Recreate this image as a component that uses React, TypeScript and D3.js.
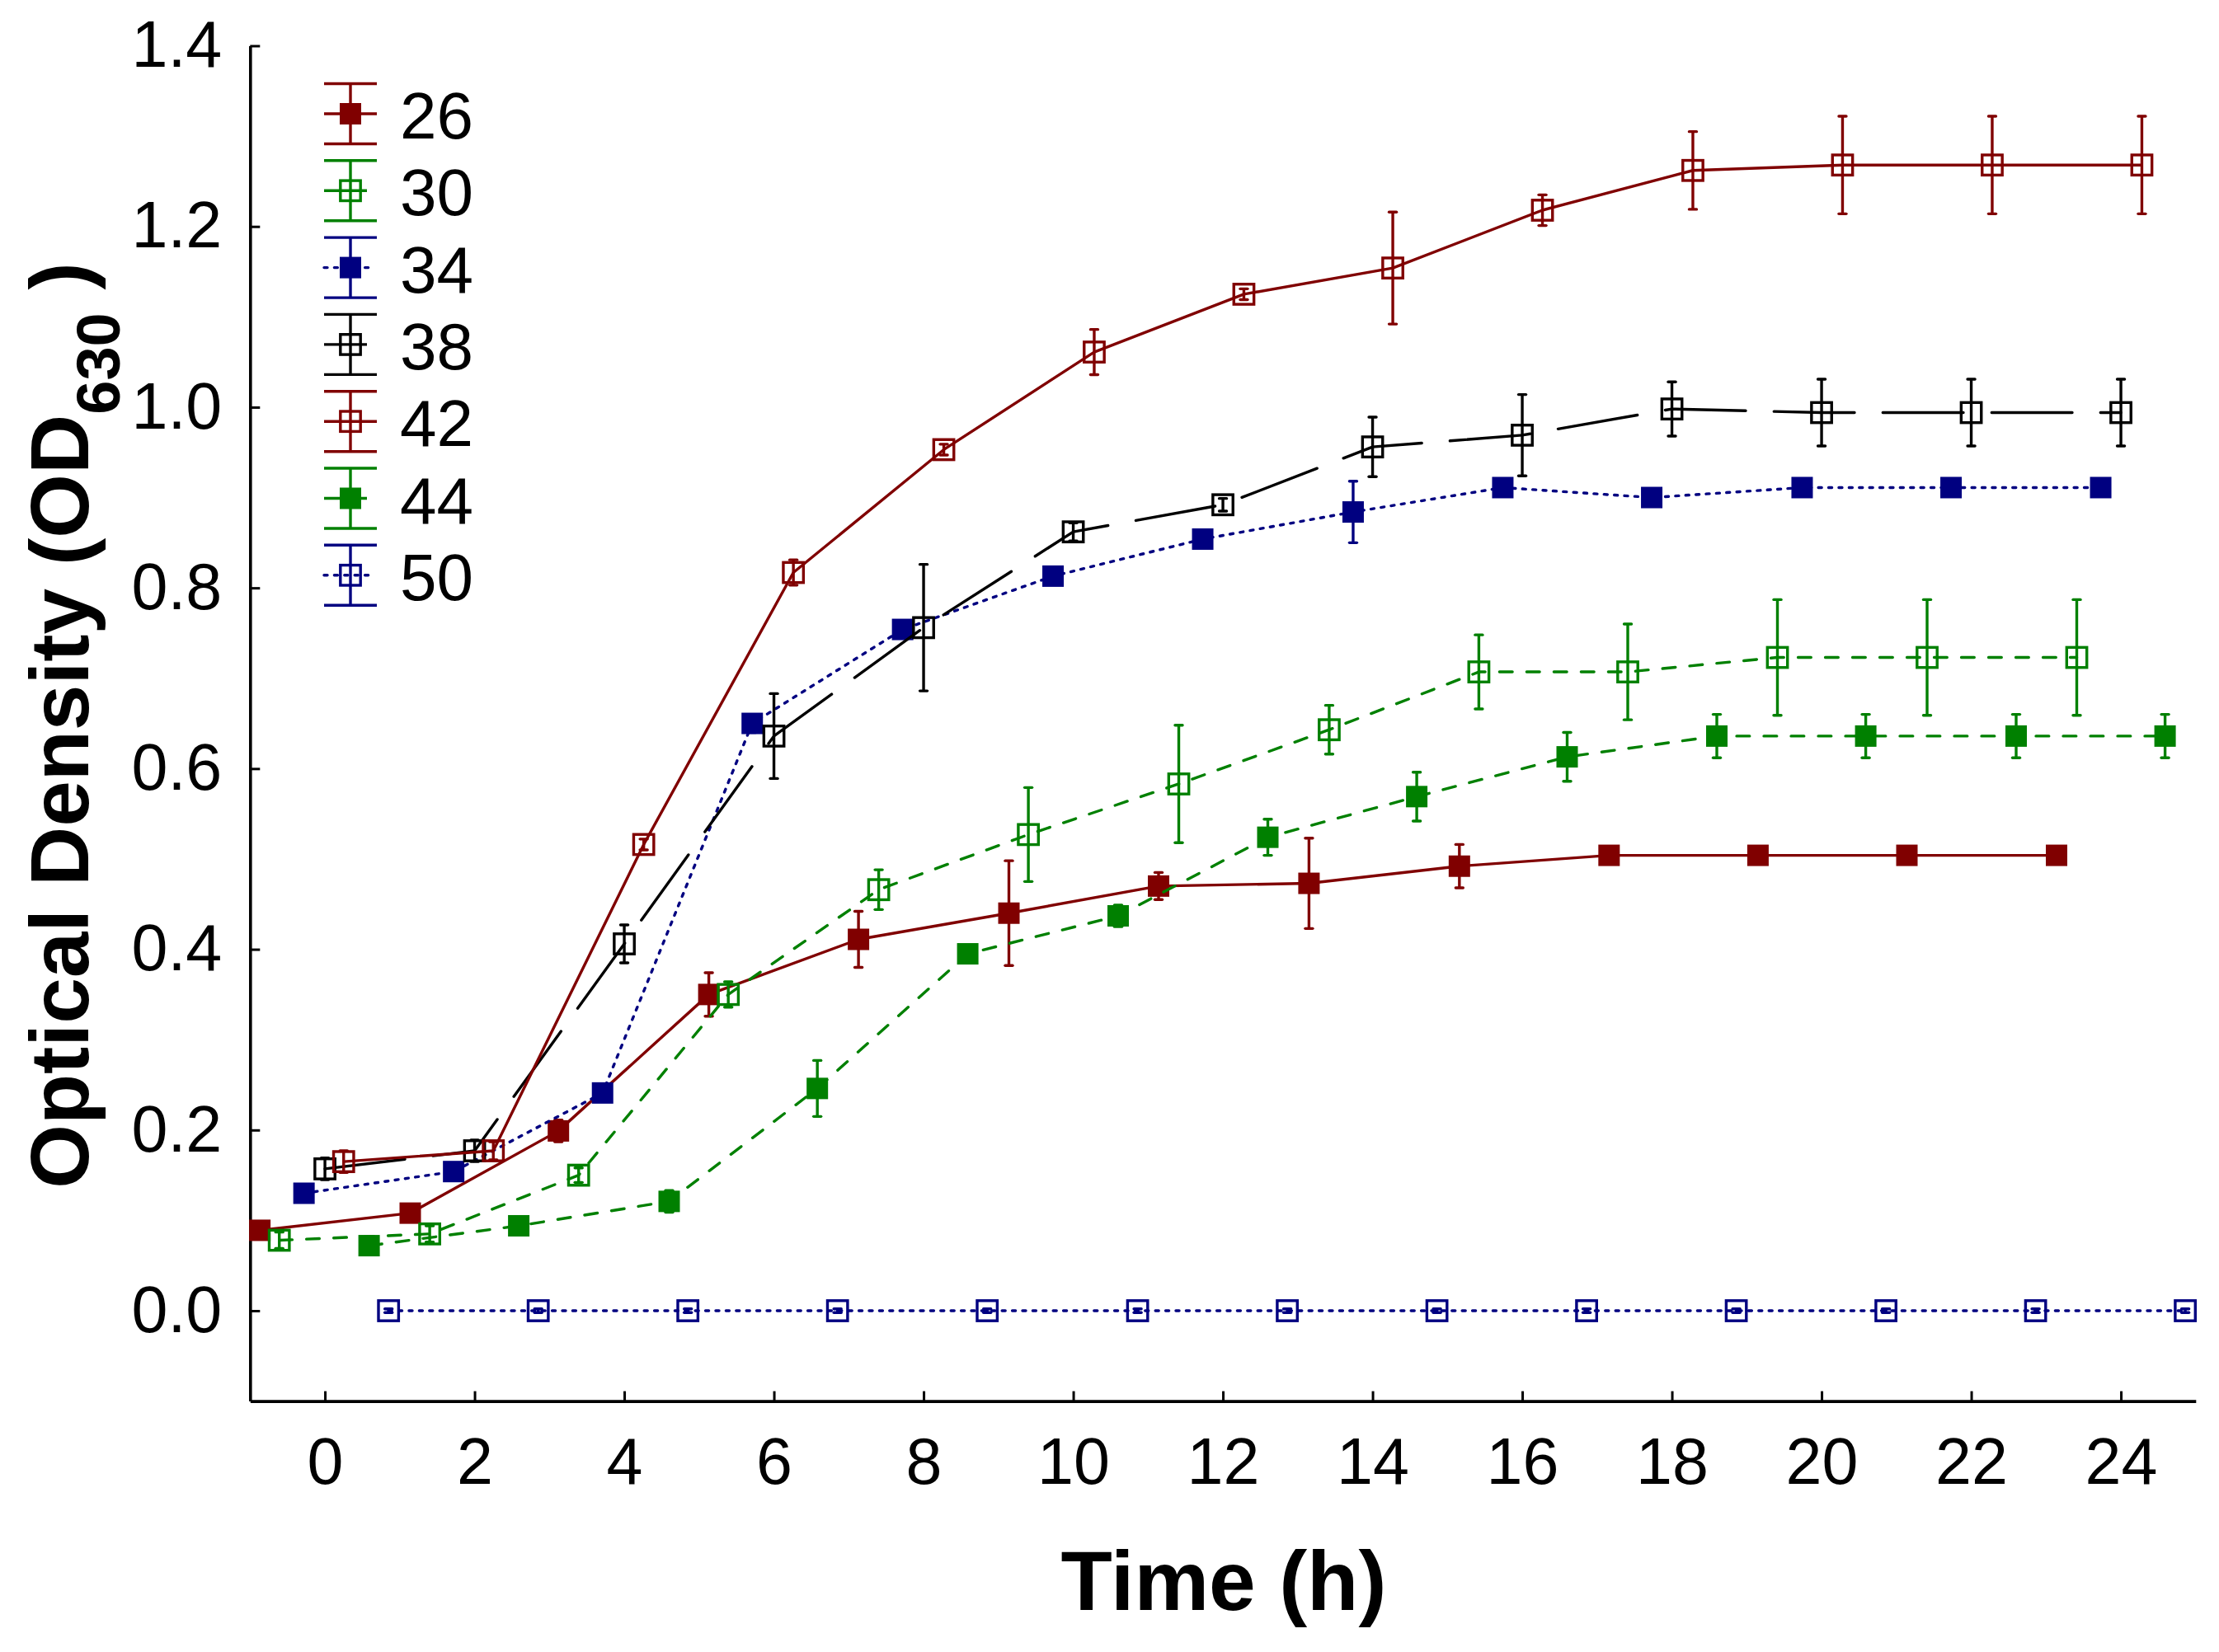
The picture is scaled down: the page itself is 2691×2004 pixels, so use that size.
import React, { useRef, useEffect } from 'react'
import * as d3 from 'd3'

// Temperature series (°C); x = sampling time (h) as plotted, with each series' small offset
const SERIES_LABELS = ['26', '30', '34', '38', '42', '44', '50']

const TIME_26 = [-0.87, 1.14, 3.12, 5.13, 7.13, 9.14, 11.14, 13.15, 15.16, 17.16, 19.15, 21.14, 23.14]
const OD_26 = [0.089, 0.108, 0.199, 0.35, 0.411, 0.44, 0.47, 0.473, 0.492, 0.504, 0.504, 0.504, 0.504]
const SD_26 = [0.006, 0.006, 0.012, 0.024, 0.031, 0.058, 0.015, 0.05, 0.024, 0.004, 0.004, 0.004, 0.004]

const TIME_30 = [-0.61, 1.4, 3.39, 5.39, 7.4, 9.4, 11.41, 13.42, 15.42, 17.41, 19.41, 21.41, 23.41]
const OD_30 = [0.078, 0.085, 0.15, 0.35, 0.466, 0.527, 0.583, 0.643, 0.707, 0.707, 0.723, 0.723, 0.723]
const SD_30 = [0.009, 0.009, 0.008, 0.014, 0.022, 0.052, 0.065, 0.027, 0.041, 0.053, 0.064, 0.064, 0.064]

const TIME_34 = [-0.28, 1.72, 3.71, 5.71, 7.72, 9.73, 11.73, 13.74, 15.74, 17.73, 19.74, 21.73, 23.73]
const OD_34 = [0.13, 0.154, 0.241, 0.65, 0.754, 0.813, 0.854, 0.884, 0.911, 0.9, 0.911, 0.911, 0.911]
const SD_34 = [0.008, 0.006, 0.006, 0.01, 0.006, 0.008, 0.006, 0.034, 0.006, 0.006, 0.004, 0.004, 0.004]

const TIME_38 = [0, 2, 4, 6, 8, 10, 12, 14, 16, 18, 20, 22, 24]
const OD_38 = [0.157, 0.177, 0.406, 0.636, 0.756, 0.862, 0.892, 0.956, 0.969, 0.998, 0.994, 0.994, 0.994]
const SD_38 = [0.012, 0.012, 0.021, 0.047, 0.07, 0.01, 0.007, 0.033, 0.045, 0.03, 0.037, 0.037, 0.037]

const TIME_42 = [0.25, 2.25, 4.26, 6.26, 8.27, 10.28, 12.28, 14.27, 16.27, 18.28, 20.28, 22.28, 24.28]
const OD_42 = [0.165, 0.177, 0.516, 0.817, 0.953, 1.061, 1.125, 1.154, 1.218, 1.262, 1.268, 1.268, 1.268]
const SD_42 = [0.012, 0.01, 0.006, 0.014, 0.006, 0.025, 0.006, 0.062, 0.017, 0.043, 0.054, 0.054, 0.054]

const TIME_44 = [0.59, 2.59, 4.6, 6.58, 8.59, 10.6, 12.6, 14.59, 16.6, 18.6, 20.59, 22.6, 24.59]
const OD_44 = [0.072, 0.094, 0.121, 0.246, 0.395, 0.437, 0.524, 0.569, 0.613, 0.636, 0.636, 0.636, 0.636]
const SD_44 = [0.004, 0.004, 0.012, 0.031, 0.006, 0.012, 0.02, 0.027, 0.027, 0.024, 0.024, 0.024, 0.024]

const TIME_50 = [0.85, 2.85, 4.85, 6.85, 8.85, 10.86, 12.86, 14.86, 16.86, 18.86, 20.86, 22.86, 24.86]
const OD_50 = [0, 0, 0, 0, 0, 0, 0, 0, 0, 0, 0, 0, 0]
const SD_50 = [0.002, 0.002, 0.002, 0.002, 0.002, 0.002, 0.002, 0.002, 0.002, 0.002, 0.002, 0.002, 0.002]

const X_TICKS = [0, 2, 4, 6, 8, 10, 12, 14, 16, 18, 20, 22, 24]
const Y_TICKS = [0, 0.2, 0.4, 0.6, 0.8, 1.0, 1.2, 1.4]

const RED = '#800000'
const GREEN = '#008000'
const NAVY = '#000080'
const BLACK = '#000000'

const SOLID = 'none'
const DASHED = '15.7,17.3'
const DOTTED = '4,8.4'
const LONG_DASH = '97.7,34.3'

interface Series {
  label: string
  time: number[]
  od: number[]
  sd: number[]
  color: string
  filled: boolean
  dash: string
}

const series: Series[] = [
  { label: SERIES_LABELS[0], time: TIME_26, od: OD_26, sd: SD_26, color: RED, filled: true, dash: SOLID },
  { label: SERIES_LABELS[1], time: TIME_30, od: OD_30, sd: SD_30, color: GREEN, filled: false, dash: DASHED },
  { label: SERIES_LABELS[2], time: TIME_34, od: OD_34, sd: SD_34, color: NAVY, filled: true, dash: DOTTED },
  { label: SERIES_LABELS[3], time: TIME_38, od: OD_38, sd: SD_38, color: BLACK, filled: false, dash: LONG_DASH },
  { label: SERIES_LABELS[4], time: TIME_42, od: OD_42, sd: SD_42, color: RED, filled: false, dash: SOLID },
  { label: SERIES_LABELS[5], time: TIME_44, od: OD_44, sd: SD_44, color: GREEN, filled: true, dash: DASHED },
  { label: SERIES_LABELS[6], time: TIME_50, od: OD_50, sd: SD_50, color: NAVY, filled: false, dash: DOTTED },
]

const WIDTH = 2691
const HEIGHT = 2004
const FONT = 'Arial, "Liberation Sans", sans-serif'

const GrowthChart: React.FC = () => {
  const svgRef = useRef<SVGSVGElement>(null)

  useEffect(() => {
    if (!svgRef.current) return
    const svg = d3.select(svgRef.current)
    svg.selectAll('*').remove()

    const x = d3.scaleLinear().domain([-1, 25]).range([303.3, 2662.8])
    const y = d3.scaleLinear().domain([-0.1, 1.4]).range([1699.6, 55.5])

    const stroke = 3.4
    const markerFilled = 26
    const markerOpen = 24.4
    const capHalf = 4.5

    // axes (ticks point inward)
    const yAxis = d3
      .axisLeft(y)
      .tickValues(Y_TICKS)
      .tickFormat(d3.format('.1f'))
      .tickSizeInner(-12)
      .tickSizeOuter(0)
      .tickPadding(34)
    const xAxis = d3
      .axisBottom(x)
      .tickValues(X_TICKS)
      .tickFormat(d3.format('d'))
      .tickSizeInner(-12)
      .tickSizeOuter(0)
      .tickPadding(44)

    const gy = svg.append('g').attr('transform', `translate(${x(-1)},0)`).call(yAxis)
    const gx = svg.append('g').attr('transform', `translate(0,${y(-0.1)})`).call(xAxis)
    ;[gx, gy].forEach(g => {
      g.select('.domain').attr('stroke', '#000').attr('stroke-width', 3.6)
      g.selectAll('.tick line').attr('stroke', '#000').attr('stroke-width', 3)
      g.selectAll('.tick text')
        .attr('fill', '#000')
        .style('font-family', FONT)
        .style('font-size', '79px')
    })
    gx.selectAll('.tick text').attr('dy', '0.71em').attr('y', 44)

    // series: line, error bars, then markers
    const path = d3
      .line<{ t: number; v: number }>()
      .x(d => x(d.t))
      .y(d => y(d.v))

    series.forEach(s => {
      const pts = s.time.map((t, i) => ({ t, v: s.od[i], e: s.sd[i] }))
      const g = svg.append('g')

      g.append('path')
        .attr('d', path(pts))
        .attr('fill', 'none')
        .attr('stroke', s.color)
        .attr('stroke-width', stroke)
        .attr('stroke-dasharray', s.dash)
        .attr('stroke-linecap', s.dash === SOLID ? 'butt' : 'round')
        .attr('stroke-linejoin', 'round')

      const bars = g.selectAll('.err').data(pts).enter().append('g')
      bars
        .append('line')
        .attr('x1', d => x(d.t))
        .attr('x2', d => x(d.t))
        .attr('y1', d => y(d.v - d.e))
        .attr('y2', d => y(d.v + d.e))
        .attr('stroke', s.color)
        .attr('stroke-width', stroke)
      ;[1, -1].forEach(sign => {
        bars
          .append('line')
          .attr('x1', d => x(d.t) - capHalf)
          .attr('x2', d => x(d.t) + capHalf)
          .attr('y1', d => y(d.v + sign * d.e))
          .attr('y2', d => y(d.v + sign * d.e))
          .attr('stroke', s.color)
          .attr('stroke-width', stroke)
          .attr('stroke-linecap', 'round')
      })

      const size = s.filled ? markerFilled : markerOpen
      g.selectAll('.mk')
        .data(pts)
        .enter()
        .append('rect')
        .attr('x', d => x(d.t) - size / 2)
        .attr('y', d => y(d.v) - size / 2)
        .attr('width', size)
        .attr('height', size)
        .attr('fill', s.filled ? s.color : 'none')
        .attr('stroke', s.filled ? 'none' : s.color)
        .attr('stroke-width', s.filled ? 0 : stroke)
    })

    // legend
    const legend = svg.append('g').attr('transform', 'translate(425,138)')
    series.forEach((s, i) => {
      const item = legend.append('g').attr('transform', `translate(0,${i * 93.3})`)
      item.append('line').attr('x1', 0).attr('x2', 0).attr('y1', -36.5).attr('y2', 36.5)
      item.append('line').attr('x1', -32).attr('x2', 32).attr('y1', -36.5).attr('y2', -36.5)
      item.append('line').attr('x1', -32).attr('x2', 32).attr('y1', 36.5).attr('y2', 36.5)
      item
        .append('line')
        .attr('x1', -32)
        .attr('x2', s.dash === SOLID ? 32 : s.dash === DOTTED ? 25 : 20)
        .attr('y1', 0)
        .attr('y2', 0)
        .attr('stroke-dasharray', s.dash === DOTTED ? DOTTED : 'none')
        .attr('stroke-linecap', s.dash === DOTTED ? 'round' : 'butt')
      item.selectAll('line').attr('stroke', s.color).attr('stroke-width', stroke)
      const size = s.filled ? markerFilled : markerOpen
      item
        .append('rect')
        .attr('x', -size / 2)
        .attr('y', -size / 2)
        .attr('width', size)
        .attr('height', size)
        .attr('fill', s.filled ? s.color : 'none')
        .attr('stroke', s.filled ? 'none' : s.color)
        .attr('stroke-width', s.filled ? 0 : stroke)
      item
        .append('text')
        .attr('x', 60)
        .attr('y', 30)
        .style('font-family', FONT)
        .style('font-size', '80px')
        .attr('fill', '#000')
        .text(s.label)
    })

    // axis titles
    svg
      .append('text')
      .attr('x', 1484)
      .attr('y', 1953)
      .attr('text-anchor', 'middle')
      .style('font-family', FONT)
      .style('font-size', '102px')
      .style('font-weight', 'bold')
      .text('Time (h)')

    const yt = svg
      .append('text')
      .attr('transform', 'translate(107,880) rotate(-90)')
      .attr('text-anchor', 'middle')
      .style('font-family', FONT)
      .style('font-size', '100px')
      .style('font-weight', 'bold')
    yt.append('tspan').text('Optical Density (OD')
    yt.append('tspan').attr('dy', 38).style('font-size', '74px').text('630')
    yt.append('tspan').attr('dy', -38).text(' )')
  }, [])

  return (
    <svg
      ref={svgRef}
      width={WIDTH}
      height={HEIGHT}
      style={{ position: 'absolute', left: 0, top: 0, background: '#fff' }}
    />
  )
}

export default function App() {
  return <GrowthChart />
}
